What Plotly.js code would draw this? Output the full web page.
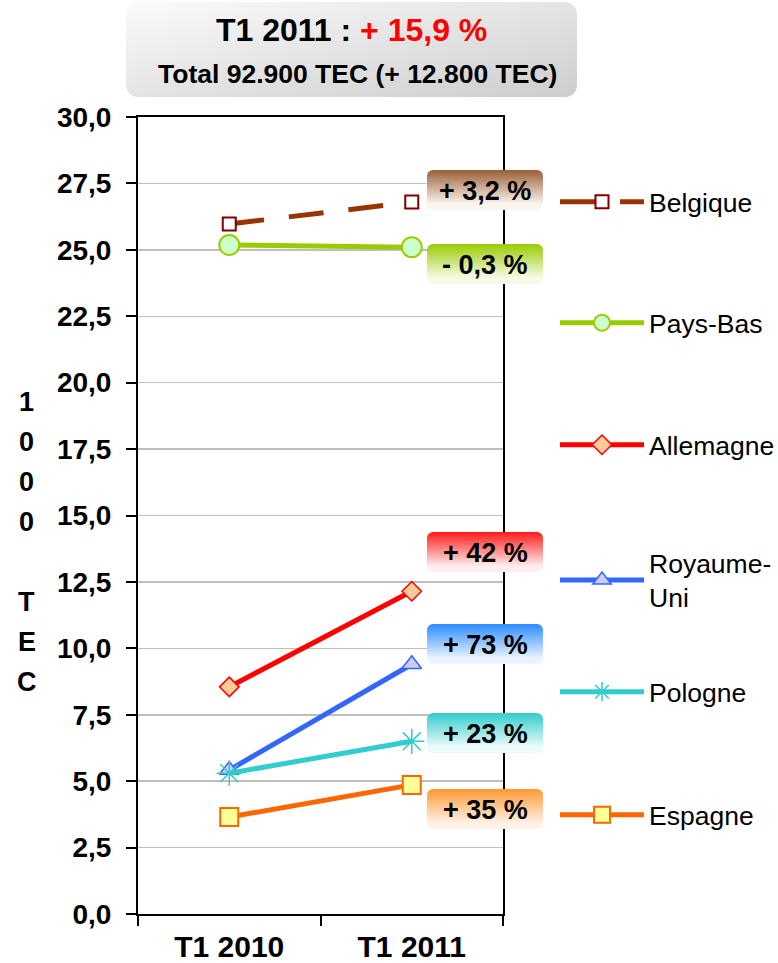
<!DOCTYPE html>
<html>
<head>
<meta charset="utf-8">
<script src="https://cdn.plot.ly/plotly-3.0.1.min.js"></script>
<style>html,body{margin:0;padding:0;background:#fff;}#chart{width:778px;height:963px;}</style>
</head>
<body>
<div id="chart"></div>
<script>
// ---- data ----
var categories = ['T1 2010', 'T1 2011'];
var seriesNames = ['Belgique', 'Pays-Bas', 'Allemagne', 'Royaume-<br>Uni', 'Pologne', 'Espagne'];
var belgique   = [25.97, 26.80];
var paysBas    = [25.18, 25.10];
var allemagne  = [8.55, 12.15];
var royaumeUni = [5.42, 9.40];
var pologne    = [5.30, 6.50];
var espagne    = [3.65, 4.86];
var pctLabels  = ['+ 3,2 %', '- 0,3 %', '+ 42 %', '+ 73 %', '+ 23 %', '+ 35 %'];
var titleLine1 = 'T1 2011 : ';
var titleLine1Red = '+ 15,9 %';
var titleLine2 = 'Total 92.900 TEC (+ 12.800 TEC)';
var yTitleChars = ['1', '0', '0', '0', '', 'T', 'E', 'C'];

// ---- geometry helpers (pixel -> paper) ----
var W = 778, H = 963, L = 138, R = 503, T = 117, B = 914;
function px(x) { return (x - L) / (R - L); }
function py(y) { return (B - y) / (B - T); }
var FONT = 'Arial, "Liberation Sans", sans-serif';

function gradBox(w, h, r, stops, diag) {
  var g = diag ? 'x1="0" y1="0" x2="1" y2="1"' : 'x1="0" y1="0" x2="0" y2="1"';
  var st = stops.map(function (s) { return '<stop offset="' + s[0] + '" stop-color="' + s[1] + '"/>'; }).join('');
  var svg = '<svg xmlns="http://www.w3.org/2000/svg" width="' + w + '" height="' + h + '" viewBox="0 0 ' + w + ' ' + h + '">' +
    '<defs><linearGradient id="g" ' + g + '>' + st + '</linearGradient></defs>' +
    '<rect x="0" y="0" width="' + w + '" height="' + h + '" rx="' + r + '" ry="' + r + '" fill="url(#g)"/></svg>';
  return 'data:image/svg+xml;charset=utf-8,' + encodeURIComponent(svg);
}

var styles = [
  {color: '#993300', dash: '35px,25px', symbol: 'square', size: 13, fill: '#ffffff', mline: '#800000', mw: 2},
  {color: '#99cc00', dash: 'solid', symbol: 'circle', size: 20, fill: '#ccffcc', mline: '#99cc00', mw: 2},
  {color: '#ff0000', dash: 'solid', symbol: 'diamond', size: 15, fill: '#ffcc99', mline: '#ff0000', mw: 1.5},
  {color: '#3366ff', dash: 'solid', symbol: 'triangle-up', size: 17, fill: '#ccccff', mline: '#3366ff', mw: 1.5},
  {color: '#33cccc', dash: 'solid', symbol: 'asterisk-open', size: 21, fill: '#33cccc', mline: '#33cccc', mw: 1.5},
  {color: '#ff6600', dash: 'solid', symbol: 'square', size: 18, fill: '#ffff99', mline: '#ff6600', mw: 2}
];
var seriesValues = [belgique, paysBas, allemagne, royaumeUni, pologne, espagne];
var legendY = [202, 323, 445, 580, 692, 815];
var boxTop = [170, 244, 532, 624, 713, 789];
var boxGrad = [
  ['#9a5f36', '#fbf5f0'],
  ['#99cc00', '#f6fbe8'],
  ['#ff1a1a', '#ffeeee'],
  ['#2a8cff', '#eaf3ff'],
  ['#33cccc', '#ecfafa'],
  ['#ff9933', '#fff1e6']
];

var traces = [];
var layoutExtra = {};
seriesValues.forEach(function (vals, i) {
  var s = styles[i];
  var lg = i === 0 ? 'legend' : 'legend' + (i + 1);
  traces.push({
    type: 'scatter', mode: 'lines+markers',
    x: categories, y: vals, name: seriesNames[i],
    legend: lg,
    line: {color: s.color, width: 5, dash: s.dash},
    marker: {symbol: s.symbol, size: s.size, color: s.fill, line: {color: s.mline, width: s.mw}},
    cliponaxis: false, hoverinfo: 'skip'
  });
  layoutExtra[lg] = {
    x: px(555), xanchor: 'left', y: py(legendY[i]), yanchor: 'middle',
    bgcolor: 'rgba(0,0,0,0)', borderwidth: 0, itemwidth: 84,
    font: {family: FONT, size: 26.5, color: '#000'},
    itemclick: false, itemdoubleclick: false
  };
});

var annotations = [];
var images = [];
// title box
images.push({
  source: gradBox(451, 95, 12, [[0, '#fbfbfb'], [1, '#cdcdcd']], true),
  xref: 'paper', yref: 'paper', x: px(126), y: py(2), sizex: 451 / (R - L), sizey: 95 / (B - T),
  sizing: 'stretch', xanchor: 'left', yanchor: 'top', layer: 'above'
});
annotations.push({
  xref: 'paper', yref: 'paper', x: px(351), y: py(30), xanchor: 'center', yanchor: 'middle', showarrow: false,
  text: titleLine1 + '<span style="color:#ff0000">' + titleLine1Red + '</span>',
  font: {family: FONT, size: 32, color: '#000', weight: 'bold'}
});
annotations.push({
  xref: 'paper', yref: 'paper', x: px(357), y: py(74), xanchor: 'center', yanchor: 'middle', showarrow: false,
  text: titleLine2, font: {family: FONT, size: 26.5, color: '#000', weight: 'bold'}
});
// percent boxes
pctLabels.forEach(function (t, i) {
  images.push({
    source: gradBox(116, 40, 6, [[0, boxGrad[i][0]], [0.85, boxGrad[i][1]], [1, boxGrad[i][1]]], false),
    xref: 'paper', yref: 'paper', x: px(427), y: py(boxTop[i]), sizex: 116 / (R - L), sizey: 40 / (B - T),
    sizing: 'stretch', xanchor: 'left', yanchor: 'top', layer: 'above'
  });
  annotations.push({
    xref: 'paper', yref: 'paper', x: px(485), y: py(boxTop[i] + 21), xanchor: 'center', yanchor: 'middle', showarrow: false,
    text: t, font: {family: FONT, size: 27, color: '#000', weight: 'bold'}
  });
});
// vertical y title letters
yTitleChars.forEach(function (c, i) {
  if (!c) return;
  annotations.push({
    xref: 'paper', yref: 'paper', x: px(27), y: py(402 + 40 * i), xanchor: 'center', yanchor: 'middle', showarrow: false,
    text: c, font: {family: FONT, size: 27, color: '#000', weight: 'bold'}
  });
});

var layout = Object.assign({
  width: W, height: H,
  margin: {l: L, r: W - R, t: T, b: H - B, pad: 0, autoexpand: false},
  paper_bgcolor: '#ffffff', plot_bgcolor: '#ffffff',
  separators: ', ',
  showlegend: true,
  font: {family: FONT, color: '#000'},
  xaxis: {
    type: 'category', range: [-0.5, 1.5], showgrid: false, zeroline: false,
    showline: true, linecolor: '#000', linewidth: 2, mirror: true,
    ticks: 'outside', tickson: 'boundaries', ticklen: 10, tickwidth: 2, tickcolor: '#000',
    ticklabelstandoff: 5, automargin: false,
    tickfont: {family: FONT, size: 30, color: '#000', weight: 'bold'}, fixedrange: true
  },
  yaxis: {
    range: [0, 30], tick0: 0, dtick: 2.5, tickformat: '.1f',
    showgrid: true, gridcolor: '#bfbfbf', gridwidth: 1.5, zeroline: false,
    showline: true, linecolor: '#000', linewidth: 2, mirror: true,
    ticks: 'outside', ticklen: 10, tickwidth: 2, tickcolor: '#000', ticklabelstandoff: 9, automargin: false,
    tickfont: {family: FONT, size: 28, color: '#000', weight: 'bold'}, fixedrange: true
  },
  annotations: annotations,
  images: images
}, layoutExtra);

Plotly.newPlot('chart', traces, layout, {staticPlot: true, displayModeBar: false});
</script>
</body>
</html>
